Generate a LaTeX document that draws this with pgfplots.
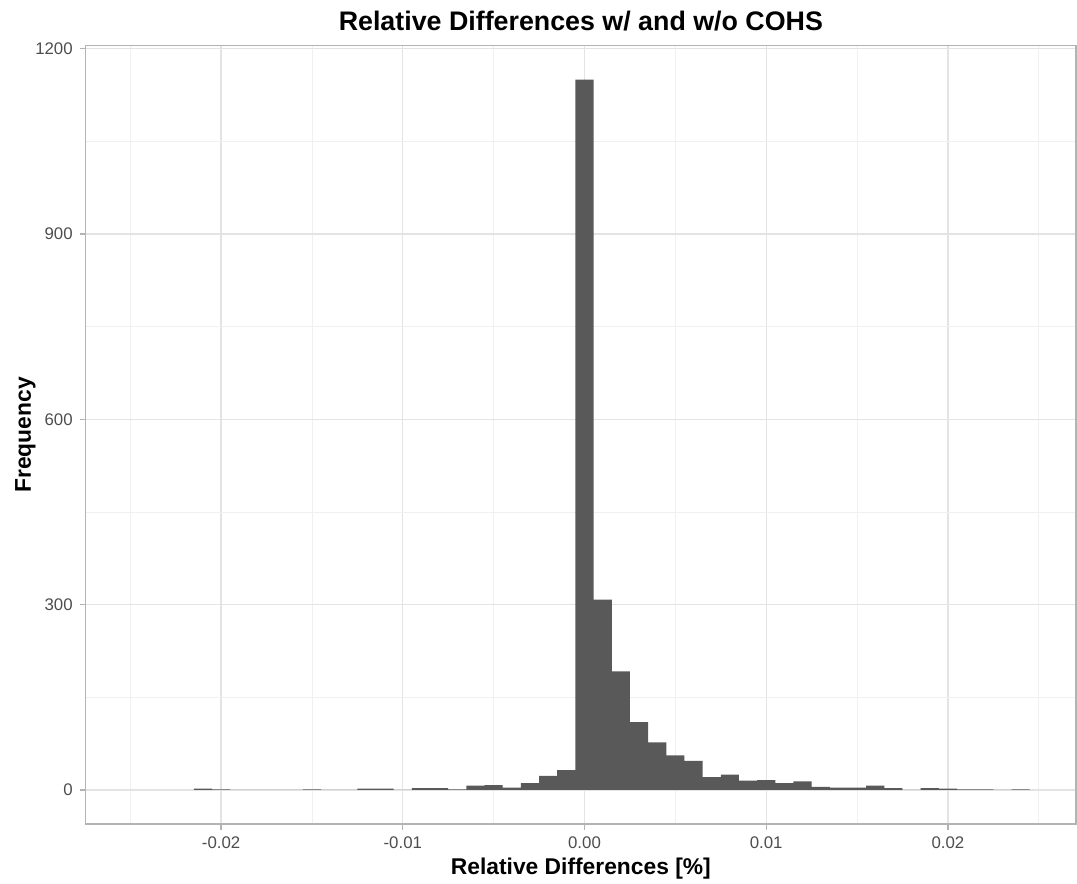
\documentclass[border=0pt]{standalone}
\usepackage{pgfplots}
\pgfplotsset{compat=1.18}
\usepackage{fontspec}
\setmainfont{Liberation Sans}
\definecolor{barfill}{HTML}{595959}
\definecolor{gridmaj}{HTML}{E3E3E3}
\definecolor{gridmin}{HTML}{F0F0F0}
\definecolor{framegray}{HTML}{B3B3B3}
\definecolor{ticktext}{HTML}{4D4D4D}

% histogram counts, bins of width 0.001 centred on k*0.001; x is the left edge
\pgfplotstableread{
x        y
-0.0215  2
-0.0205  1
-0.0195  0
-0.0185  0
-0.0175  0
-0.0165  0
-0.0155  1
-0.0145  0
-0.0135  0
-0.0125  2
-0.0115  2
-0.0105  0
-0.0095  3
-0.0085  3
-0.0075  1
-0.0065  7
-0.0055  8
-0.0045  4
-0.0035  11
-0.0025  23
-0.0015  32
-0.0005  1150
0.0005   308
0.0015   192
0.0025   110
0.0035   77
0.0045   56
0.0055   47
0.0065   21
0.0075   25
0.0085   15
0.0095   16
0.0105   11
0.0115   14
0.0125   5
0.0135   4
0.0145   4
0.0155   7
0.0165   3
0.0175   0
0.0185   3
0.0195   2
0.0205   1
0.0215   1
0.0225   0
0.0235   1
0.0245   0
}\histdata

\begin{document}
\begin{tikzpicture}
\begin{axis}[
    scale only axis,
    width=495pt,
    height=389pt,
    xmin=-0.02745, xmax=0.02705,
    ymin=-55, ymax=1205,
    xtick={-0.02,-0.01,0,0.01,0.02},
    xticklabels={-0.02,-0.01,0.00,0.01,0.02},
    minor xtick={-0.025,-0.015,-0.005,0.005,0.015,0.025},
    ytick={0,300,600,900,1200},
    yticklabels={0,300,600,900,1200},
    minor ytick={150,450,750,1050},
    grid=both,
    major grid style={draw=gridmaj, line width=0.6pt},
    minor grid style={draw=gridmin, line width=0.4pt},
    axis line style={draw=framegray, line width=0.7pt},
    tick align=outside,
    major tick length=3pt,
    minor tick length=0pt,
    tick style={draw=framegray, line width=0.6pt},
    xtick pos=bottom, ytick pos=left,
    scaled x ticks=false,
    /pgf/number format/assume math mode=true,
    tick label style={font=\fontsize{8.4}{10}\selectfont, text=ticktext},
    xlabel={\textbf{Relative Differences [\%]}},
    ylabel={\textbf{Frequency}},
    label style={font=\fontsize{11.4}{13}\selectfont},
    xlabel style={yshift=2.5pt},
    ylabel style={yshift=-7pt},
    title={\textbf{Relative Differences w/ and w/o COHS}},
    title style={font=\fontsize{13.4}{15}\selectfont, yshift=-2pt},
]
\addplot[ybar interval, fill=barfill, draw=none] table[x=x, y=y] {\histdata};
\end{axis}
\pgfresetboundingbox
\path ([shift={(-42.85pt,-30pt)}]current axis.south west) rectangle ([shift={(0.5pt,22.85pt)}]current axis.north east);
\end{tikzpicture}
\end{document}
